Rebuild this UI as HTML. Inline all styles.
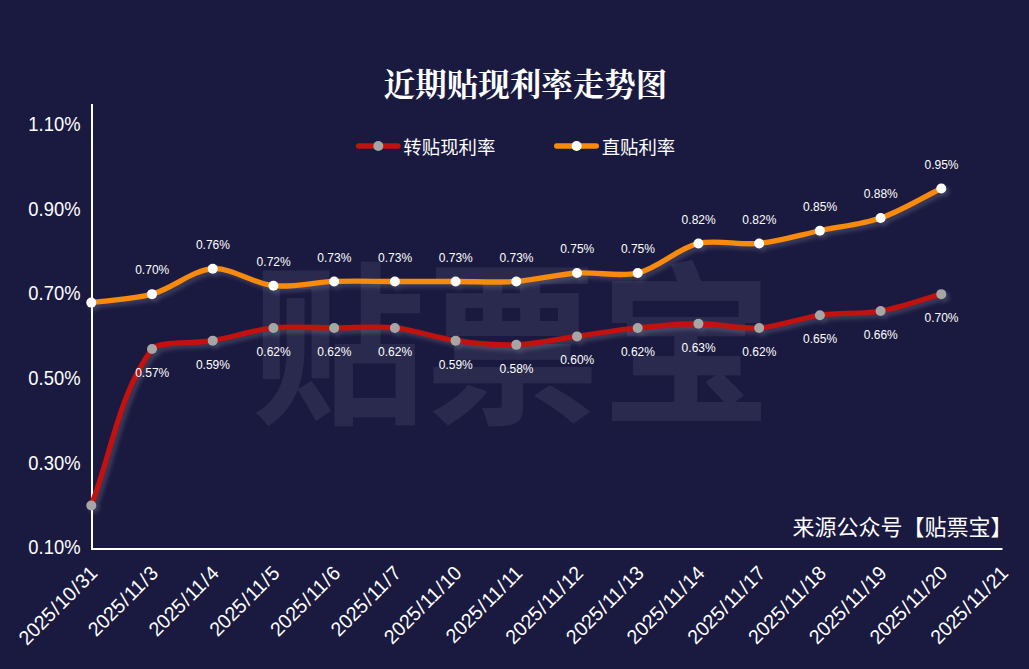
<!DOCTYPE html>
<html lang="zh-CN"><head><meta charset="utf-8"><title>近期贴现利率走势图</title>
<style>
html,body{margin:0;padding:0;background:#1a1a40;}
body{width:1029px;height:669px;overflow:hidden;font-family:"Liberation Sans",sans-serif;}
svg{display:block;}
svg text{font-family:"Liberation Sans",sans-serif;fill:#ffffff;}
.yl{font-size:20px;text-anchor:end;}
.dl{font-size:12px;text-anchor:middle;}
.xl{font-size:20px;text-anchor:end;}
</style></head><body>
<svg width="1029" height="669" viewBox="0 0 1029 669">
<defs>
<filter id="glow" x="-5%" y="-20%" width="110%" height="140%" color-interpolation-filters="sRGB"><feGaussianBlur in="SourceAlpha" stdDeviation="2.2"/><feOffset dx="3.3" dy="3.3" result="b"/><feFlood flood-color="#ffffff" flood-opacity="0.16"/><feComposite in2="b" operator="in"/><feMerge><feMergeNode/><feMergeNode in="SourceGraphic"/></feMerge></filter>
</defs>
<rect width="1029" height="669" fill="#1a1a40"/>
<g fill="#ffffff" opacity="0.07"><text x="512.2" y="410" text-anchor="middle" style="font-family:'Liberation Sans','Noto Sans CJK SC',sans-serif;font-size:174px;font-weight:bold;fill:#ffffff;">贴票宝</text>
</g>
<rect x="91" y="104" width="2" height="446" fill="#ffffff"/>
<rect x="91" y="548" width="911.5" height="2" fill="#ffffff"/>
<text class="yl" transform="translate(80.5 131.2) scale(0.92 1)">1.10%</text>
<text class="yl" transform="translate(80.5 215.8) scale(0.92 1)">0.90%</text>
<text class="yl" transform="translate(80.5 300.4) scale(0.92 1)">0.70%</text>
<text class="yl" transform="translate(80.5 385) scale(0.92 1)">0.50%</text>
<text class="yl" transform="translate(80.5 469.6) scale(0.92 1)">0.30%</text>
<text class="yl" transform="translate(80.5 554.2) scale(0.92 1)">0.10%</text>
<text class="xl" transform="translate(98.7 574.4) rotate(-45) scale(0.97 1)">2025<tspan dx="1.15">/</tspan><tspan dx="1.15">10</tspan><tspan dx="1.15">/</tspan><tspan dx="1.15">31</tspan></text>
<text class="xl" transform="translate(159.41 574.4) rotate(-45) scale(0.97 1)">2025<tspan dx="1.15">/</tspan><tspan dx="1.15">11</tspan><tspan dx="1.15">/</tspan><tspan dx="1.15">3</tspan></text>
<text class="xl" transform="translate(220.13 574.4) rotate(-45) scale(0.97 1)">2025<tspan dx="1.15">/</tspan><tspan dx="1.15">11</tspan><tspan dx="1.15">/</tspan><tspan dx="1.15">4</tspan></text>
<text class="xl" transform="translate(280.84 574.4) rotate(-45) scale(0.97 1)">2025<tspan dx="1.15">/</tspan><tspan dx="1.15">11</tspan><tspan dx="1.15">/</tspan><tspan dx="1.15">5</tspan></text>
<text class="xl" transform="translate(341.56 574.4) rotate(-45) scale(0.97 1)">2025<tspan dx="1.15">/</tspan><tspan dx="1.15">11</tspan><tspan dx="1.15">/</tspan><tspan dx="1.15">6</tspan></text>
<text class="xl" transform="translate(402.27 574.4) rotate(-45) scale(0.97 1)">2025<tspan dx="1.15">/</tspan><tspan dx="1.15">11</tspan><tspan dx="1.15">/</tspan><tspan dx="1.15">7</tspan></text>
<text class="xl" transform="translate(462.98 574.4) rotate(-45) scale(0.97 1)">2025<tspan dx="1.15">/</tspan><tspan dx="1.15">11</tspan><tspan dx="1.15">/</tspan><tspan dx="1.15">10</tspan></text>
<text class="xl" transform="translate(523.7 574.4) rotate(-45) scale(0.97 1)">2025<tspan dx="1.15">/</tspan><tspan dx="1.15">11</tspan><tspan dx="1.15">/</tspan><tspan dx="1.15">11</tspan></text>
<text class="xl" transform="translate(584.41 574.4) rotate(-45) scale(0.97 1)">2025<tspan dx="1.15">/</tspan><tspan dx="1.15">11</tspan><tspan dx="1.15">/</tspan><tspan dx="1.15">12</tspan></text>
<text class="xl" transform="translate(645.13 574.4) rotate(-45) scale(0.97 1)">2025<tspan dx="1.15">/</tspan><tspan dx="1.15">11</tspan><tspan dx="1.15">/</tspan><tspan dx="1.15">13</tspan></text>
<text class="xl" transform="translate(705.84 574.4) rotate(-45) scale(0.97 1)">2025<tspan dx="1.15">/</tspan><tspan dx="1.15">11</tspan><tspan dx="1.15">/</tspan><tspan dx="1.15">14</tspan></text>
<text class="xl" transform="translate(766.55 574.4) rotate(-45) scale(0.97 1)">2025<tspan dx="1.15">/</tspan><tspan dx="1.15">11</tspan><tspan dx="1.15">/</tspan><tspan dx="1.15">17</tspan></text>
<text class="xl" transform="translate(827.27 574.4) rotate(-45) scale(0.97 1)">2025<tspan dx="1.15">/</tspan><tspan dx="1.15">11</tspan><tspan dx="1.15">/</tspan><tspan dx="1.15">18</tspan></text>
<text class="xl" transform="translate(887.98 574.4) rotate(-45) scale(0.97 1)">2025<tspan dx="1.15">/</tspan><tspan dx="1.15">11</tspan><tspan dx="1.15">/</tspan><tspan dx="1.15">19</tspan></text>
<text class="xl" transform="translate(948.7 574.4) rotate(-45) scale(0.97 1)">2025<tspan dx="1.15">/</tspan><tspan dx="1.15">11</tspan><tspan dx="1.15">/</tspan><tspan dx="1.15">20</tspan></text>
<text class="xl" transform="translate(1009.41 574.4) rotate(-45) scale(0.97 1)">2025<tspan dx="1.15">/</tspan><tspan dx="1.15">11</tspan><tspan dx="1.15">/</tspan><tspan dx="1.15">21</tspan></text>
<g filter="url(#glow)">
<path d="M91.3 505.44C111.54 453.32 118.54 394.52 152.01 349.08C158.06 340.87 192.77 344.1 212.73 340.63C233.09 337.08 252.99 330.08 273.44 327.95C293.17 325.89 313.92 327.95 334.16 327.95C354.39 327.95 375.14 325.89 394.87 327.95C415.33 330.08 435.15 337.78 455.58 340.63C475.37 343.38 496.23 345.55 516.3 344.85C536.61 344.15 556.77 339.22 577.01 336.4C597.25 333.58 617.42 330.07 637.73 327.95C657.79 325.85 678.2 323.72 698.44 323.72C718.68 323.72 739.37 329.33 759.15 327.95C779.58 326.53 799.44 318.11 819.87 315.27C839.65 312.52 861.17 314.42 880.58 311.04C901.18 307.46 921.06 299.77 941.3 294.14" fill="none" stroke="#c1120f" stroke-width="5.33" stroke-linecap="round" stroke-linejoin="round"/>
<g fill="#a6a6a6"><circle cx="91.3" cy="505.44" r="5"/><circle cx="152.01" cy="349.08" r="5"/><circle cx="212.73" cy="340.63" r="5"/><circle cx="273.44" cy="327.95" r="5"/><circle cx="334.16" cy="327.95" r="5"/><circle cx="394.87" cy="327.95" r="5"/><circle cx="455.58" cy="340.63" r="5"/><circle cx="516.3" cy="344.85" r="5"/><circle cx="577.01" cy="336.4" r="5"/><circle cx="637.73" cy="327.95" r="5"/><circle cx="698.44" cy="323.72" r="5"/><circle cx="759.15" cy="327.95" r="5"/><circle cx="819.87" cy="315.27" r="5"/><circle cx="880.58" cy="311.04" r="5"/><circle cx="941.3" cy="294.14" r="5"/></g>
</g>
<g filter="url(#glow)">
<path d="M91.3 302.59C111.54 299.77 133.42 299.32 152.01 294.14C172.98 288.3 192.05 270.22 212.73 268.78C231.95 267.45 252.85 283.54 273.44 285.69C292.85 287.71 313.89 282.17 334.16 281.46C354.34 280.76 374.63 281.46 394.87 281.46C415.11 281.46 435.35 281.46 455.58 281.46C475.82 281.46 496.29 282.85 516.3 281.46C536.63 280.05 556.68 274.43 577.01 273.01C597.02 271.62 619.92 277.35 637.73 273.01C659.07 267.81 677.1 248.63 698.44 243.43C716.25 239.09 739.43 245.49 759.15 243.43C779.61 241.29 799.63 234.98 819.87 230.75C840.11 226.52 862.31 224.43 880.58 218.07C901.7 210.72 921.06 198.35 941.3 188.49" fill="none" stroke="#f88a0d" stroke-width="5.33" stroke-linecap="round" stroke-linejoin="round"/>
<g fill="#ffffff"><circle cx="91.3" cy="302.59" r="5"/><circle cx="152.01" cy="294.14" r="5"/><circle cx="212.73" cy="268.78" r="5"/><circle cx="273.44" cy="285.69" r="5"/><circle cx="334.16" cy="281.46" r="5"/><circle cx="394.87" cy="281.46" r="5"/><circle cx="455.58" cy="281.46" r="5"/><circle cx="516.3" cy="281.46" r="5"/><circle cx="577.01" cy="273.01" r="5"/><circle cx="637.73" cy="273.01" r="5"/><circle cx="698.44" cy="243.43" r="5"/><circle cx="759.15" cy="243.43" r="5"/><circle cx="819.87" cy="230.75" r="5"/><circle cx="880.58" cy="218.07" r="5"/><circle cx="941.3" cy="188.49" r="5"/></g>
</g>
<text class="dl" transform="translate(152.21 274.24) scale(1.0 1)">0.70%</text>
<text class="dl" transform="translate(212.93 248.88) scale(1.0 1)">0.76%</text>
<text class="dl" transform="translate(273.64 265.79) scale(1.0 1)">0.72%</text>
<text class="dl" transform="translate(334.36 261.56) scale(1.0 1)">0.73%</text>
<text class="dl" transform="translate(395.07 261.56) scale(1.0 1)">0.73%</text>
<text class="dl" transform="translate(455.78 261.56) scale(1.0 1)">0.73%</text>
<text class="dl" transform="translate(516.5 261.56) scale(1.0 1)">0.73%</text>
<text class="dl" transform="translate(577.21 253.11) scale(1.0 1)">0.75%</text>
<text class="dl" transform="translate(637.93 253.11) scale(1.0 1)">0.75%</text>
<text class="dl" transform="translate(698.64 223.53) scale(1.0 1)">0.82%</text>
<text class="dl" transform="translate(759.35 223.53) scale(1.0 1)">0.82%</text>
<text class="dl" transform="translate(820.07 210.85) scale(1.0 1)">0.85%</text>
<text class="dl" transform="translate(880.78 198.17) scale(1.0 1)">0.88%</text>
<text class="dl" transform="translate(941.5 168.59) scale(1.0 1)">0.95%</text>
<text class="dl" transform="translate(152.21 376.98) scale(1.0 1)">0.57%</text>
<text class="dl" transform="translate(212.93 368.53) scale(1.0 1)">0.59%</text>
<text class="dl" transform="translate(273.64 355.85) scale(1.0 1)">0.62%</text>
<text class="dl" transform="translate(334.36 355.85) scale(1.0 1)">0.62%</text>
<text class="dl" transform="translate(395.07 355.85) scale(1.0 1)">0.62%</text>
<text class="dl" transform="translate(455.78 368.53) scale(1.0 1)">0.59%</text>
<text class="dl" transform="translate(516.5 372.75) scale(1.0 1)">0.58%</text>
<text class="dl" transform="translate(577.21 364.3) scale(1.0 1)">0.60%</text>
<text class="dl" transform="translate(637.93 355.85) scale(1.0 1)">0.62%</text>
<text class="dl" transform="translate(698.64 351.62) scale(1.0 1)">0.63%</text>
<text class="dl" transform="translate(759.35 355.85) scale(1.0 1)">0.62%</text>
<text class="dl" transform="translate(820.07 343.17) scale(1.0 1)">0.65%</text>
<text class="dl" transform="translate(880.78 338.94) scale(1.0 1)">0.66%</text>
<text class="dl" transform="translate(941.5 322.04) scale(1.0 1)">0.70%</text>
<text x="525.4" y="96" text-anchor="middle" style="font-family:'Liberation Serif','Noto Serif CJK SC',serif;font-size:31.5px;font-weight:bold;fill:#ffffff;">近期贴现利率走势图</text>
<path d="M358.56 146H398.03" stroke="#c1120f" stroke-width="5.33" stroke-linecap="round" fill="none"/>
<circle cx="378.3" cy="146" r="5" fill="#a6a6a6"/>
<text x="403.37" y="153.67" style="font-family:'Liberation Sans','Noto Sans CJK SC',sans-serif;font-size:18.4px;fill:#ffffff;">转贴现利率</text>
<path d="M556.66 146H596.34" stroke="#f88a0d" stroke-width="5.33" stroke-linecap="round" fill="none"/>
<circle cx="576.6" cy="146" r="5" fill="#ffffff"/>
<text x="601.65" y="153.71" style="font-family:'Liberation Sans','Noto Sans CJK SC',sans-serif;font-size:18.4px;fill:#ffffff;">直贴利率</text>
<text x="792.5" y="535.3" style="font-family:'Liberation Sans','Noto Sans CJK SC',sans-serif;font-size:22px;fill:#ffffff;">来源公众号【贴票宝】</text>
</svg>
</body></html>
